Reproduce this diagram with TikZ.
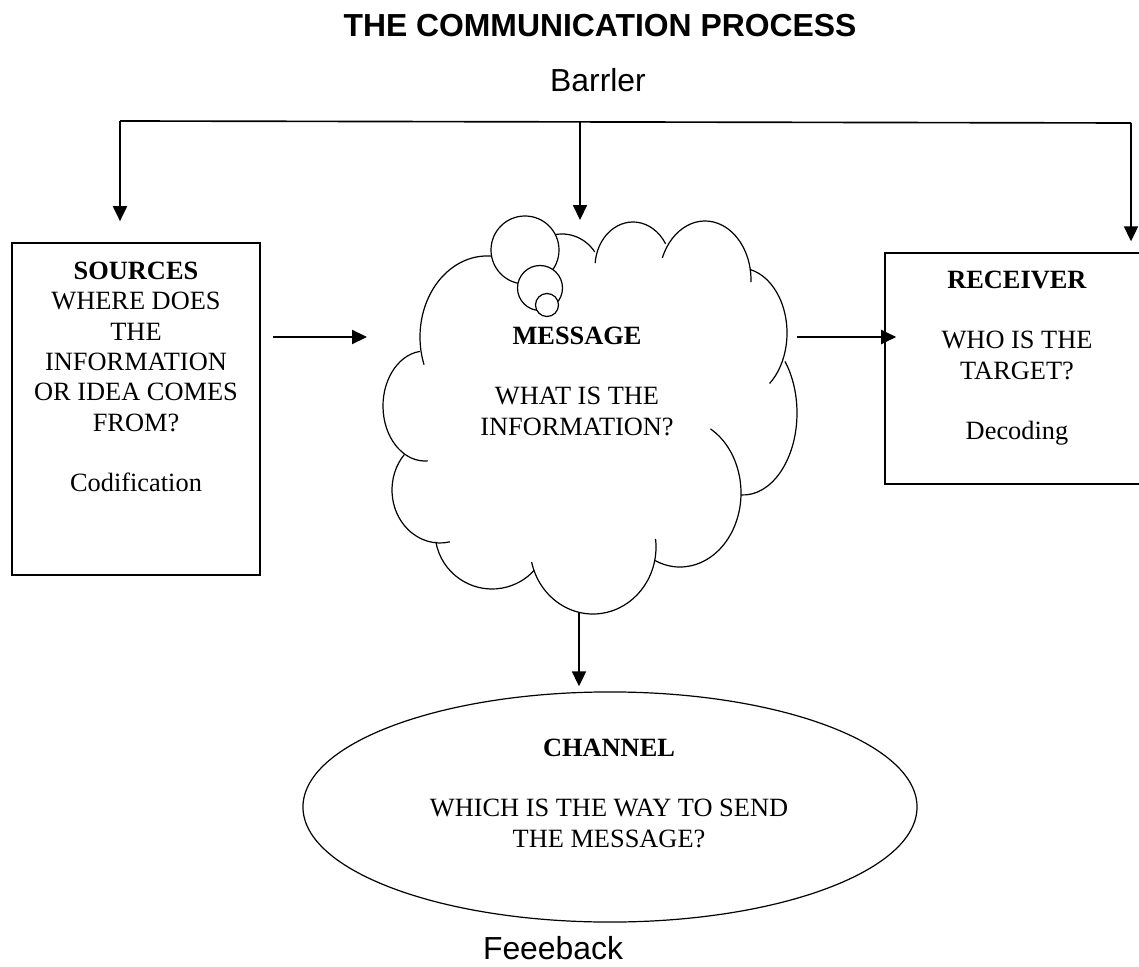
\documentclass[tikz,border=0pt]{standalone}
\usepackage{fontspec}
\setmainfont{Liberation Serif}
\setsansfont{Liberation Sans}
\usetikzlibrary{arrows.meta,shapes.geometric}

\begin{document}
\begin{tikzpicture}[x=0.455pt,y=-0.455pt,
  box/.style={draw,line width=0.75pt,inner sep=0pt},
  txt/.style={align=center,font=\fontsize{12}{13.8}\selectfont},
  lbl/.style={anchor=base,font=\sffamily\fontsize{14.5}{17}\selectfont},
  arr/.style={line width=0.75pt,-{Triangle[length=6.8pt,width=6.4pt]}},
  puff/.style={line width=0.55pt}]
\useasboundingbox (0,0) rectangle (1139,967);
\clip (0,0) rectangle (1139,967);

% headings
\node[lbl,font=\sffamily\bfseries\fontsize{14.5}{17}\selectfont] (title) at (600,37) {THE COMMUNICATION PROCESS};
\node[lbl] (barrier) at (598,92) {Barrler};
\node[lbl] (feedback) at (553,959) {Feeeback};

% boxes
\node[box,minimum width=113pt,minimum height=151pt] (sources) at (136,409) {};
\node[txt] (sourcestext) at (136,377) {\textbf{SOURCES}\\WHERE DOES\\THE\\INFORMATION\\OR IDEA COMES\\FROM?\\[13.8pt]Codification};
\node[box,minimum width=120pt,minimum height=105pt] (receiver) at (1017,368.5) {};
\node[txt] (receivertext) at (1017,358) {\textbf{RECEIVER}\\[13.8pt]WHO IS THE\\TARGET?\\[13.8pt]Decoding};
\node[draw,ellipse,line width=0.55pt,inner sep=0pt,minimum width=279.4pt,minimum height=104.7pt] (channel) at (610,807) {};
\node[txt] (channeltext) at (609,793) {\textbf{CHANNEL}\\[13.8pt]WHICH IS THE WAY TO SEND\\THE MESSAGE?};

% cloud
\draw[puff] (487,337) ++(-75:67 and 81) arc[start angle=-75,end angle=-200,x radius=67,y radius=81];
\draw[puff] (562,276) ++(-110:40 and 42) arc[start angle=-110,end angle=-35,x radius=40,y radius=42];
\draw[puff] (633,267) ++(-175:38 and 45) arc[start angle=-175,end angle=-31,x radius=38,y radius=45];
\draw[puff] (705,280) ++(-158:46 and 59) arc[start angle=-158,end angle=2,x radius=46,y radius=59];
\draw[puff] (740,333) ++(-78:47 and 65) arc[start angle=-78,end angle=51,x radius=47,y radius=65];
\draw[puff] (743,413) ++(92:54 and 82) arc[start angle=92,end angle=-39,x radius=54,y radius=82];
\draw[puff] (680,493) ++(114:61 and 74) arc[start angle=114,end angle=-60,x radius=61,y radius=74];
\draw[puff] (593,547) ++(167:63 and 67) arc[start angle=167,end angle=-7,x radius=63,y radius=67];
\draw[puff] (492,532) ++(170:57 and 57) arc[start angle=170,end angle=42,x radius=57,y radius=57];
\draw[puff] (440,490) ++(222:48 and 53) arc[start angle=222,end angle=78,x radius=48,y radius=53];
\draw[puff] (425,406) ++(263:42 and 55) arc[start angle=263,end angle=86,x radius=42,y radius=55];
\draw[puff,fill=white] (525,250) circle[radius=34];
\draw[puff,fill=white] (540,288) circle[radius=22.5];
\draw[puff,fill=white] (547,305) circle[radius=11.5];
\node[txt] (message) at (577,381) {\textbf{MESSAGE}\\[13.8pt]WHAT IS THE\\INFORMATION?};

\coordinate (msgW) at (367,337);
\coordinate (msgE) at (797,337);
\coordinate (msgN) at (580,220);
\coordinate (msgS) at (579,612);
\coordinate (barL) at (120,121);
\coordinate (barR) at (1131,123);

% arrows
\draw[line width=0.75pt] (barL) -- (barR);
\draw[arr,shorten >=9.6pt] (barL) -- (barL |- sources.north);
\draw[arr] (msgN |- barL) -- (msgN);
\draw[arr,shorten >=5pt] (barR) -- (barR |- receiver.north);
\draw[arr,shorten <=5.4pt] (sources.east |- msgW) -- (msgW);
\draw[arr,shorten >=-5.4pt] (msgE) -- (receiver.west |- msgE);
\draw[arr,shorten >=2.3pt] (msgS) -- (msgS |- channel.north);
\end{tikzpicture}
\end{document}
